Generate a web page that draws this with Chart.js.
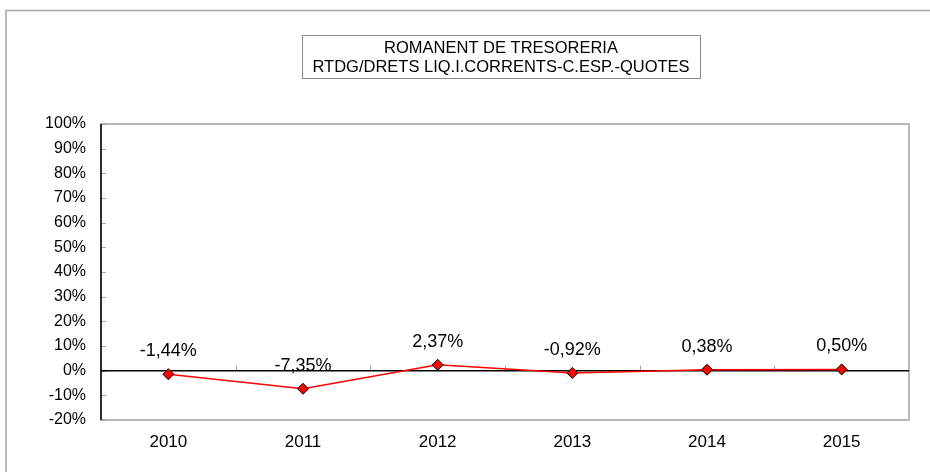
<!DOCTYPE html>
<html>
<head>
<meta charset="utf-8">
<script src="https://cdn.jsdelivr.net/npm/chart.js@4/dist/chart.umd.min.js"></script>
<style>
  body { margin: 0; background: #fff; }
  #romanent { display: block; }
</style>
</head>
<body>
<canvas id="romanent" width="930" height="472"></canvas>
<script>
// anys i percentatges del romanent de tresoreria
var anys = ['2010', '2011', '2012', '2013', '2014', '2015'];
var percentatges = [-1.44, -7.35, 2.37, -0.92, 0.38, 0.50];
var titol = ['ROMANENT DE TRESORERIA', 'RTDG/DRETS LIQ.I.CORRENTS-C.ESP.-QUOTES'];

var font = '"Liberation Sans", Arial, sans-serif';

function formatPct(v) {
    return v.toFixed(2).replace('.', ',') + '%';
}

// marc exterior, caixa del titol i vores de l'area del grafic
var marcPlugin = {
    id: 'marc',
    beforeDraw: function (chart) {
        var ctx = chart.ctx;
        var a = chart.chartArea;
        ctx.save();
        ctx.fillStyle = '#fff';
        ctx.fillRect(0, 0, chart.width, chart.height);

        // marc exterior (talla per dreta i per baix)
        ctx.strokeStyle = '#a6a6a6';
        ctx.lineWidth = 1.5;
        ctx.beginPath();
        ctx.moveTo(6, chart.height + 2);
        ctx.lineTo(6, 10.5);
        ctx.lineTo(chart.width + 2, 10.5);
        ctx.stroke();

        // caixa del titol
        ctx.strokeStyle = '#8c8c8c';
        ctx.lineWidth = 1;
        ctx.strokeRect(302.5, 35.5, 398, 43);
        ctx.fillStyle = '#000';
        ctx.font = '16.5px ' + font;
        ctx.textAlign = 'center';
        ctx.textBaseline = 'middle';
        ctx.fillText(titol[0], 501, 48);
        ctx.fillText(titol[1], 501, 67);

        // vora de l'area del grafic
        ctx.strokeStyle = '#a0a0a0';
        ctx.lineWidth = 1.5;
        ctx.strokeRect(a.left, a.top, a.right - a.left, a.bottom - a.top);
        ctx.restore();
    },
    beforeDatasetsDraw: function (chart) {
        var ctx = chart.ctx;
        var a = chart.chartArea;
        var y = chart.scales.y;
        var x = chart.scales.x;
        var zero = y.getPixelForValue(0);
        ctx.save();
        ctx.strokeStyle = '#a0a0a0';
        ctx.lineWidth = 1;
        // marques de l'eix Y cap a dins
        y.ticks.forEach(function (t) {
            var py = Math.round(y.getPixelForValue(t.value)) + 0.5;
            ctx.beginPath();
            ctx.moveTo(a.left, py);
            ctx.lineTo(a.left + 5, py);
            ctx.stroke();
        });
        // marques de categoria sobre la linia del zero
        for (var i = 1; i < anys.length; i++) {
            var px = Math.round((x.getPixelForValue(i - 1) + x.getPixelForValue(i)) / 2) + 0.5;
            ctx.beginPath();
            ctx.moveTo(px, zero);
            ctx.lineTo(px, zero - 5);
            ctx.stroke();
        }
        // linia del zero i eix vertical
        ctx.strokeStyle = '#000';
        ctx.lineWidth = 1.5;
        ctx.beginPath();
        ctx.moveTo(a.left, zero);
        ctx.lineTo(a.right, zero);
        ctx.moveTo(a.left, a.top);
        ctx.lineTo(a.left, a.bottom);
        ctx.stroke();
        ctx.restore();
    },
    afterDatasetsDraw: function (chart) {
        var ctx = chart.ctx;
        var meta = chart.getDatasetMeta(0);
        ctx.save();
        ctx.fillStyle = '#000';
        ctx.font = '18px ' + font;
        ctx.textAlign = 'center';
        ctx.textBaseline = 'middle';
        meta.data.forEach(function (pt, i) {
            ctx.fillText(formatPct(percentatges[i]), pt.x, pt.y - 23);
        });
        ctx.restore();
    }
};

var ctx = document.getElementById('romanent');

var romanentChart = new Chart(ctx, {
    type: 'line',
    data: {
        labels: anys,
        datasets: [{
            data: percentatges,
            borderColor: '#ff0000',
            borderWidth: 1.5,
            backgroundColor: '#ff0000',
            pointStyle: 'rectRot',
            pointRadius: 5.5,
            pointBorderColor: '#000',
            pointBorderWidth: 1,
            tension: 0
        }]
    },
    options: {
        responsive: false,
        animation: false,
        layout: { padding: { top: 124, right: 21, left: 0, bottom: 0 } },
        plugins: {
            legend: { display: false },
            title: { display: false },
            tooltip: { enabled: false }
        },
        scales: {
            x: {
                offset: true,
                grid: { display: false, drawTicks: false },
                border: { display: false },
                ticks: { color: '#000', font: { family: font, size: 17 }, padding: 12 },
                afterFit: function (s) { s.height = 52; }
            },
            y: {
                min: -20,
                max: 100,
                grid: { display: false, drawTicks: false },
                border: { display: false },
                ticks: {
                    stepSize: 10,
                    color: '#000',
                    padding: 15,
                    font: { family: font, size: 16 },
                    callback: function (v) { return v + '%'; }
                },
                afterFit: function (s) { s.width = 101; }
            }
        }
    },
    plugins: [marcPlugin]
});
</script>
</body>
</html>
